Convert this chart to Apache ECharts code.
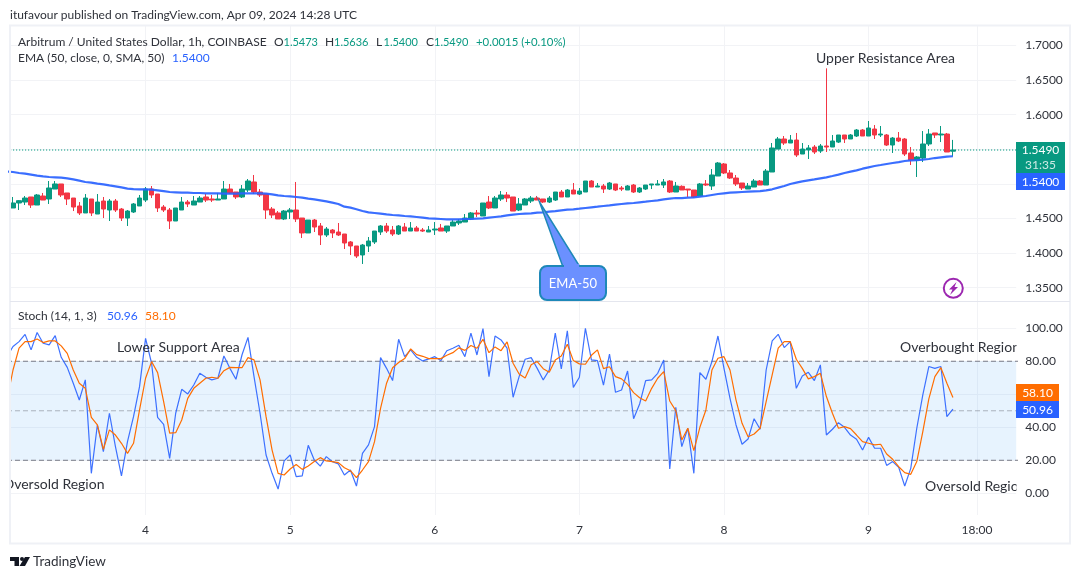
<!DOCTYPE html>
<html><head><meta charset="utf-8">
<style>html,body{margin:0;padding:0;background:#fff}#c{width:1080px;height:579px}</style>
<script src="https://cdn.jsdelivr.net/npm/echarts@6/dist/echarts.min.js"></script>
</head><body><div id="c"></div>
<script>
// open, close, low, high for each hourly bar, Apr 3 02:00 to Apr 9 14:00
const candles=[
[1.4652,1.4724,1.4652,1.4811],[1.4724,1.4758,1.4623,1.4767],[1.4738,1.4796,1.4695,1.4825],[1.4811,1.4695,1.4652,1.4811],[1.4695,1.4840,1.4695,1.4854],
[1.4825,1.4767,1.4767,1.4869],[1.4782,1.4941,1.4710,1.5042],[1.4926,1.4999,1.4926,1.5042],[1.4999,1.4840,1.4811,1.4999],[1.4869,1.4782,1.4695,1.4869],
[1.4796,1.4666,1.4608,1.4796],[1.4681,1.4580,1.4551,1.4738],[1.4580,1.4796,1.4580,1.4854],[1.4782,1.4580,1.4536,1.4782],[1.4565,1.4738,1.4565,1.4854],
[1.4753,1.4637,1.4507,1.4811],[1.4623,1.4753,1.4464,1.4782],[1.4753,1.4623,1.4594,1.4782],[1.4637,1.4507,1.4464,1.4652],[1.4507,1.4608,1.4392,1.4623],
[1.4594,1.4710,1.4580,1.4724],[1.4681,1.4796,1.4681,1.4840],[1.4767,1.4926,1.4738,1.4955],[1.4926,1.4840,1.4796,1.4970],[1.4854,1.4652,1.4594,1.4854],
[1.4666,1.4623,1.4594,1.4695],[1.4623,1.4464,1.4348,1.4652],[1.4464,1.4652,1.4464,1.4652],[1.4623,1.4738,1.4623,1.4811],[1.4738,1.4710,1.4666,1.4767],
[1.4695,1.4753,1.4695,1.4825],[1.4738,1.4796,1.4738,1.4825],[1.4811,1.4767,1.4738,1.4854],[1.4782,1.4767,1.4738,1.4840],[1.4767,1.4782,1.4767,1.4869],
[1.4782,1.4926,1.4782,1.5042],[1.4926,1.4869,1.4854,1.4999],[1.4883,1.4811,1.4782,1.4883],[1.4811,1.4926,1.4796,1.4984],[1.4912,1.5042,1.4883,1.5071],
[1.5028,1.4883,1.4854,1.5129],[1.4883,1.4840,1.4811,1.4926],[1.4854,1.4623,1.4493,1.4854],[1.4637,1.4551,1.4507,1.4666],[1.4580,1.4493,1.4493,1.4608],
[1.4493,1.4608,1.4478,1.4623],[1.4594,1.4623,1.4493,1.4652],[1.4623,1.4493,1.4449,1.5028],[1.4507,1.4291,1.4218,1.4507],[1.4291,1.4478,1.4291,1.4478],
[1.4478,1.4377,1.4305,1.4493],[1.4392,1.4262,1.4117,1.4435],[1.4262,1.4348,1.4233,1.4377],[1.4334,1.4291,1.4218,1.4348],[1.4305,1.4262,1.4247,1.4435],
[1.4276,1.4146,1.4059,1.4276],[1.4161,1.4103,1.3973,1.4175],[1.4103,1.3958,1.3929,1.4103],[1.3973,1.4117,1.3843,1.4132],[1.4103,1.4175,1.4016,1.4233],
[1.4161,1.4319,1.4132,1.4319],[1.4305,1.4392,1.4262,1.4406],[1.4392,1.4319,1.4291,1.4435],[1.4334,1.4276,1.4247,1.4392],[1.4276,1.4392,1.4262,1.4406],
[1.4377,1.4319,1.4319,1.4435],[1.4319,1.4363,1.4319,1.4449],[1.4363,1.4319,1.4319,1.4392],[1.4334,1.4319,1.4305,1.4363],[1.4305,1.4334,1.4305,1.4392],
[1.4334,1.4348,1.4262,1.4449],[1.4363,1.4319,1.4319,1.4421],[1.4319,1.4392,1.4291,1.4392],[1.4392,1.4449,1.4392,1.4478],[1.4435,1.4464,1.4406,1.4493],
[1.4449,1.4507,1.4449,1.4565],[1.4493,1.4580,1.4478,1.4594],[1.4580,1.4565,1.4522,1.4623],[1.4536,1.4724,1.4536,1.4724],[1.4738,1.4652,1.4637,1.4825],
[1.4652,1.4796,1.4652,1.4825],[1.4782,1.4840,1.4753,1.4897],[1.4840,1.4796,1.4738,1.4883],[1.4811,1.4608,1.4608,1.4811],[1.4623,1.4710,1.4608,1.4796],
[1.4695,1.4782,1.4695,1.4796],[1.4753,1.4796,1.4724,1.4825],[1.4796,1.4767,1.4767,1.4825],[1.4782,1.4738,1.4724,1.4782],[1.4738,1.4796,1.4724,1.4825],
[1.4767,1.4883,1.4753,1.4883],[1.4883,1.4811,1.4811,1.4912],[1.4811,1.4912,1.4811,1.4926],[1.4912,1.4854,1.4854,1.5013],[1.4854,1.4897,1.4840,1.4941],
[1.4883,1.5042,1.4883,1.5042],[1.5042,1.4955,1.4955,1.5056],[1.4955,1.4970,1.4955,1.5013],[1.4970,1.4926,1.4869,1.4999],[1.4926,1.5013,1.4912,1.5028],
[1.4999,1.4912,1.4897,1.4999],[1.4941,1.4926,1.4897,1.4970],[1.4912,1.4970,1.4912,1.4984],[1.4984,1.4883,1.4869,1.4999],[1.4883,1.4941,1.4869,1.4955],
[1.4926,1.4984,1.4912,1.4984],[1.4984,1.4999,1.4926,1.4999],[1.4984,1.4999,1.4984,1.5056],[1.4984,1.5028,1.4941,1.5071],[1.5042,1.4883,1.4869,1.5056],
[1.4883,1.4970,1.4883,1.5028],[1.4965,1.4912,1.4912,1.4979],[1.4926,1.4912,1.4811,1.4926],[1.4912,1.4811,1.4796,1.4912],[1.4825,1.4999,1.4825,1.5013],
[1.4999,1.4984,1.4970,1.5056],[1.4970,1.5129,1.4912,1.5215],[1.5114,1.5302,1.5114,1.5316],[1.5288,1.5158,1.5143,1.5302],[1.5158,1.5085,1.5071,1.5201],
[1.5085,1.4999,1.4970,1.5129],[1.5013,1.4941,1.4912,1.5013],[1.4926,1.4970,1.4926,1.5013],[1.4955,1.5042,1.4955,1.5071],[1.5042,1.4984,1.4984,1.5056],
[1.4984,1.5186,1.4984,1.5215],[1.5172,1.5519,1.5172,1.5591],[1.5504,1.5649,1.5504,1.5678],[1.5649,1.5591,1.5562,1.5692],[1.5591,1.5634,1.5591,1.5707],
[1.5634,1.5418,1.5389,1.5736],[1.5432,1.5504,1.5432,1.5591],[1.5490,1.5519,1.5360,1.5562],[1.5533,1.5461,1.5432,1.5562],[1.5475,1.5548,1.5447,1.5577],
[1.5548,1.5533,1.5461,1.6670],[1.5533,1.5620,1.5533,1.5707],[1.5605,1.5707,1.5591,1.5707],[1.5707,1.5649,1.5591,1.5707],[1.5649,1.5707,1.5649,1.5721],
[1.5692,1.5779,1.5678,1.5793],[1.5779,1.5692,1.5692,1.5793],[1.5692,1.5808,1.5692,1.5909],[1.5793,1.5707,1.5649,1.5851],[1.5707,1.5721,1.5678,1.5837],
[1.5707,1.5562,1.5548,1.5721],[1.5562,1.5663,1.5447,1.5678],[1.5663,1.5620,1.5605,1.5750],[1.5649,1.5432,1.5403,1.5663],[1.5447,1.5345,1.5273,1.5533],
[1.5345,1.5389,1.5100,1.5403],[1.5374,1.5577,1.5316,1.5764],[1.5577,1.5721,1.5548,1.5793],[1.5736,1.5707,1.5663,1.5736],[1.5707,1.5721,1.5605,1.5837],
[1.5721,1.5461,1.5461,1.5736],[1.5473,1.5490,1.5400,1.5636]];
// one bar earlier than the first candle (runs off the left edge), then bar by bar
const emaValues=[1.5177,
1.5172,1.5158,1.5148,1.5134,1.5119,1.5109,1.5100,1.5095,1.5090,1.5081,1.5066,1.5047,1.5028,1.5018,1.5003,1.4994,1.4979,1.4965,1.4950,1.4931,
1.4926,1.4922,1.4922,1.4917,1.4907,1.4897,1.4883,1.4878,1.4873,1.4873,1.4869,1.4869,1.4864,1.4864,1.4864,1.4859,1.4859,1.4859,1.4864,1.4864,
1.4864,1.4864,1.4859,1.4849,1.4835,1.4825,1.4820,1.4811,1.4801,1.4787,1.4777,1.4763,1.4748,1.4729,1.4710,
1.4671,1.4657,1.4633,1.4608,1.4589,1.4580,1.4570,1.4560,1.4551,1.4546,1.4536,1.4531,1.4522,1.4512,1.4502,1.4498,1.4493,1.4488,1.4488,1.4488,
1.4493,1.4493,1.4498,1.4502,1.4512,1.4522,1.4531,1.4546,1.4556,1.4565,1.4570,1.4575,1.4584,1.4589,1.4599,1.4608,1.4618,1.4628,1.4633,1.4642,
1.4652,1.4662,1.4671,1.4681,1.4690,1.4700,1.4710,1.4719,1.4724,1.4734,1.4743,1.4753,1.4763,1.4777,1.4787,1.4796,
1.4796,1.4801,1.4806,1.4816,1.4825,1.4840,1.4854,1.4864,1.4873,1.4878,1.4883,1.4888,1.4893,1.4897,1.4907,1.4922,1.4946,1.4970,1.4999,1.5018,
1.5037,1.5052,1.5066,1.5081,1.5095,1.5114,1.5134,1.5158,1.5177,1.5196,1.5220,1.5240,1.5259,1.5273,1.5288,1.5302,1.5316,1.5331,1.5341,1.5345,
1.5350,1.5360,1.5374,1.5384,1.5394,1.5400];
const stochK=[82.8,
88.9,91.9,96.3,86.9,97.4,90.9,89.9,95.5,82.4,76.3,66.7,56.5,68.7,12.1,41.4,25.2,48.5,28.3,10.5,31.3,46.4,64.6,93.9,78.8,46.0,41.8,21.2,48.5,63.0,60.2,
65.6,72.7,70.3,68.7,69.7,83.2,75.7,69.1,83.8,94.5,70.7,48.5,23.2,12.1,2.6,19.6,23.2,10.1,10.5,29.1,20.2,16.5,22.2,19.2,17.8,11.1,14.1,4.4,24.2,29.3,
40.4,82.2,75.7,68.3,93.3,82.8,86.9,82.4,80.2,81.4,82.8,80.4,86.4,87.9,89.7,82.8,97.0,83.8,99.8,70.7,95.3,92.9,87.9,58.2,70.7,81.2,82.2,75.7,68.7,74.7,
97.0,75.3,98.4,64.2,70.3,100,80.8,80.4,65.6,84.4,61.2,62.6,74.1,45.2,54.1,68.3,68.7,72.7,80.8,14.7,52.1,28.3,39.4,12.1,73.1,69.1,79.8,95.3,75.7,57.5,
41.4,29.7,32.9,45.2,38.8,74.7,92.3,96.3,88.3,91.9,63.6,71.1,73.3,68.3,77.8,35.3,38.8,42.8,40.0,35.3,32.7,26.2,33.9,27.3,27.3,16.9,19.2,15.7,4.4,15.1,
39.4,59.6,76.8,75.7,76.8,46.4,50.96];
const stochD=[56.5,
74.7,87.9,91.9,91.9,93.5,91.3,92.3,92.3,89.3,84.8,74.7,66.7,63.6,46.0,41.4,26.6,38.4,35.3,30.3,24.2,30.3,50.5,69.7,79.8,73.1,55.5,36.4,36.7,44.4,57.5,
63.6,66.7,69.7,70.3,69.7,74.3,76.3,76.1,76.1,82.2,80.8,68.7,46.4,26.2,12.1,11.1,14.7,17.5,14.5,16.5,19.2,21.6,19.6,19.2,18.6,15.5,13.7,9.5,14.1,19.2,
31.3,51.5,66.7,76.1,79.2,81.6,87.5,84.0,83.0,81.6,81.6,81.6,83.6,85.2,88.1,86.6,89.5,87.9,93.3,85.2,88.7,86.4,91.7,78.8,72.3,69.9,77.9,79.8,75.5,73.3,
80.8,83.2,90.3,80.4,78.4,78.2,83.6,86.9,75.5,76.7,70.7,69.3,66.0,61.0,57.9,55.9,63.6,69.7,73.7,55.9,50.1,32.3,39.4,25.8,40.0,50.5,74.7,81.8,82.8,74.7,
56.5,42.4,34.3,35.9,39.4,55.5,71.7,87.9,91.9,91.9,81.2,75.7,69.3,70.7,72.7,58.6,48.5,39.4,40.4,39.2,35.3,31.3,30.3,29.3,29.7,23.8,20.6,16.1,12.5,11.5,
19.2,37.4,57.2,70.7,76.1,66.7,58.10];
const timeTickIndex=[23,47,71,95,119,143,161];
const timeTickLabels=['4','5','6','7','8','9','18:00'];
const priceTicks=[1.35,1.4,1.45,1.5,1.55,1.6,1.65,1.7];
const priceLabels=[1.35,1.4,1.45,1.6,1.65,1.7];
const stochTicks=[0,20,40,60,80,100];
const stochLabels=[0,20,40,80,100];
const lastClose=1.5490, overbought=80, middle=50, oversold=20;
const categories=Array.from({length:169},(_,i)=>String(i));

const FONT='Lato,"Noto Sans",sans-serif';
const INK='#2f323a', GREEN='#089981', RED='#f23645', BLUE='#2962ff', ORANGE='#ff6d00', GRID='#f2f3f6', FRAME='#eff1f6';
const tickText=i=>timeTickLabels[timeTickIndex.indexOf(i)];
const isTick=i=>timeTickIndex.includes(i);
const pairs=a=>a.map((v,i)=>[i,v]);
const FIRST=0, LAST=168;
function level(pane,v,style){return {type:'line',xAxisIndex:pane,yAxisIndex:pane,data:[[FIRST,v],[LAST,v]],showSymbol:false,symbol:'none',z:2,lineStyle:style};}
function txt(x,y,t,o={}){return {type:'text',x,y:y+0.5,z:o.z||20,style:{text:t,fill:o.c||INK,font:(o.s||12)+'px '+FONT,textAlign:o.a||'left',textVerticalAlign:'middle'}};}
function tag(x,y,w,h,bg){return {type:'rect',z:30,shape:{x,y,width:w,height:h},style:{fill:bg}};}

const chart=echarts.init(document.getElementById('c'),null,{renderer:'canvas'});
const xBase={type:'category',data:categories,min:1,max:167,boundaryGap:true,
  axisLine:{show:false},axisTick:{show:false},
  splitLine:{show:true,alignWithLabel:true,interval:isTick,lineStyle:{color:GRID,width:1}}};
const stochBase={gridIndex:1,position:'right',type:'value',min:-13.15,max:115.9,axisLine:{show:false}};
chart.setOption({
 animation:false,backgroundColor:'#fff',
 grid:[{left:10,top:26,width:1006.2,height:275},{left:10,top:302,width:1006.2,height:213}],
 xAxis:[
  Object.assign({},xBase,{gridIndex:0,axisLabel:{show:false}}),
  Object.assign({},xBase,{gridIndex:1,axisLabel:{show:true,interval:isTick,alignWithLabel:true,formatter:(v,i)=>tickText(+v),color:INK,fontFamily:FONT,fontSize:12,margin:9}})
 ],
 yAxis:[
  {gridIndex:0,position:'right',type:'value',min:1.3308,max:1.7282,axisLine:{show:false},
   axisTick:{show:false,customValues:priceTicks},splitLine:{show:true,lineStyle:{color:GRID}},
   axisLabel:{customValues:priceLabels,formatter:v=>v.toFixed(4),color:INK,fontFamily:FONT,fontSize:12,margin:9}},
  Object.assign({},stochBase,{axisTick:{show:false,customValues:stochTicks},splitLine:{show:true,lineStyle:{color:GRID}},axisLabel:{show:false}}),
  Object.assign({},stochBase,{z:100,axisTick:{show:false},splitLine:{show:false},
   axisLabel:{customValues:stochLabels,formatter:v=>v.toFixed(2),color:INK,fontFamily:FONT,fontSize:12,margin:9}})
 ],
 series:[
  level(0,lastClose,{color:GREEN,type:[1.2,1.8],width:1.2}),
  {type:'candlestick',xAxisIndex:0,yAxisIndex:0,barWidth:5,z:3,
   data:[['-','-','-','-']].concat(candles).map(r=>r.slice()),
   itemStyle:{color:GREEN,color0:RED,borderColor:GREEN,borderColor0:RED,borderWidth:1}},
  {type:'line',name:'EMA',xAxisIndex:0,yAxisIndex:0,data:pairs(emaValues),showSymbol:false,symbol:'none',z:4,
   lineStyle:{color:BLUE,width:2.2,opacity:.92}},
  level(1,overbought,{color:'#787b86',type:[5,3],width:1}),
  level(1,middle,{color:'rgba(120,123,134,.55)',type:[5,3],width:1}),
  level(1,oversold,{color:'#787b86',type:[5,3],width:1}),
  {type:'line',name:'K',xAxisIndex:1,yAxisIndex:1,data:pairs(stochK),showSymbol:false,symbol:'none',z:4,
   lineStyle:{color:BLUE,width:1.2,opacity:.9},
   markArea:{silent:true,itemStyle:{color:'rgba(33,150,243,0.11)'},data:[[{yAxis:overbought},{yAxis:oversold}]]}},
  {type:'line',name:'D',xAxisIndex:1,yAxisIndex:1,data:pairs(stochD),showSymbol:false,symbol:'none',z:5,
   lineStyle:{color:ORANGE,width:1.2}}
 ],
 graphic:{elements:[
  txt(10,15,'itufavour published on TradingView.com, Apr 09, 2024 14:28 UTC'),
  txt(18,42,'Arbitrum / United States Dollar, 1h, COINBASE'),
  txt(274,42,'O'),txt(283.5,42,'1.5473',{c:GREEN,s:11}),
  txt(325,42,'H'),txt(334,42,'1.5636',{c:GREEN,s:11}),
  txt(376,42,'L'),txt(383.5,42,'1.5400',{c:GREEN,s:11}),
  txt(426,42,'C'),txt(434,42,'1.5490',{c:GREEN,s:11}),
  txt(476,42,'+0.0015 (+0.10%)',{c:GREEN,s:11.4}),
  txt(18,58,'EMA (50, close, 0, SMA, 50)'),txt(172,58,'1.5400',{c:BLUE}),
  txt(18,316,'Stoch (14, 1, 3)'),txt(107,316,'50.96',{c:BLUE}),txt(145,316,'58.10',{c:ORANGE}),
  txt(816,58,'Upper Resistance Area',{s:14}),
  txt(117,347,'Lower Support Area',{s:14}),
  txt(900,347,'Overbought Region',{s:14}),
  txt(3,484,'Oversold Region',{s:14}),
  txt(925,486,'Oversold Region',{s:14}),
  {type:'rect',z:25,shape:{x:0,y:470,width:10,height:30},style:{fill:'#fff'}},
  {type:'rect',z:25,shape:{x:1016.5,y:338,width:14,height:18},style:{fill:'#fff'}},
  {type:'rect',z:25,shape:{x:1016.5,y:476,width:18,height:20},style:{fill:'#fff'}},
  {type:'rect',z:26,shape:{x:10,y:25.5,width:1060,height:518},style:{fill:'none',stroke:FRAME,lineWidth:2}},
  {type:'line',z:26,shape:{x1:10,y1:301.5,x2:1070,y2:301.5},style:{stroke:'#e4e6ee',lineWidth:1}},
  tag(1016,142,49,31,GREEN),
  txt(1040.5,150,'1.5490',{c:'#fff',a:'center',z:31}),txt(1040.5,165,'31:35',{c:'#cdebe5',a:'center',z:31}),
  tag(1016,173,49,17,BLUE),txt(1040.5,182,'1.5400',{c:'#fff',a:'center',z:31}),
  tag(1016,384,43,17,ORANGE),txt(1037.5,393,'58.10',{c:'#fff',a:'center',z:31}),
  tag(1016,401,43,17,BLUE),txt(1037.5,410,'50.96',{c:'#fff',a:'center',z:31}),
  {type:'polygon',z:15,shape:{points:[[539.5,202],[563,267],[580,267]]},style:{fill:'#6b90ff',stroke:'#1e88b8',lineWidth:1.5}},
  {type:'rect',z:16,shape:{x:540,y:266,width:66,height:34,r:7},style:{fill:'#6b90ff',stroke:'#1e88b8',lineWidth:2}},
  {type:'rect',z:17,shape:{x:564,y:264,width:15,height:4},style:{fill:'#6b90ff'}},
  txt(573,283,'EMA-50',{c:'#fff',s:13,a:'center',z:18}),
  {type:'circle',z:20,shape:{cx:953.3,cy:288.3,r:9.5},style:{fill:'#fff',stroke:'#9c27b0',lineWidth:2}},
  {type:'polygon',z:21,shape:{points:[[956.5,282],[949,289.5],[952.5,289.5],[950,295],[958,287],[954.5,287]]},style:{fill:'#9c27b0'}},
  {type:'polygon',z:20,shape:{points:[[10,557],[19,557],[19,566],[14.5,566],[14.5,561],[10,561]]},style:{fill:'#131722'}},
  {type:'circle',z:20,shape:{cx:22,cy:559,r:2},style:{fill:'#131722'}},
  {type:'polygon',z:20,shape:{points:[[25,557],[30,557],[25,566],[19.5,566]]},style:{fill:'#131722'}},
  txt(33,561.5,'TradingView',{s:13.5})
 ]}
});
</script></body></html>
